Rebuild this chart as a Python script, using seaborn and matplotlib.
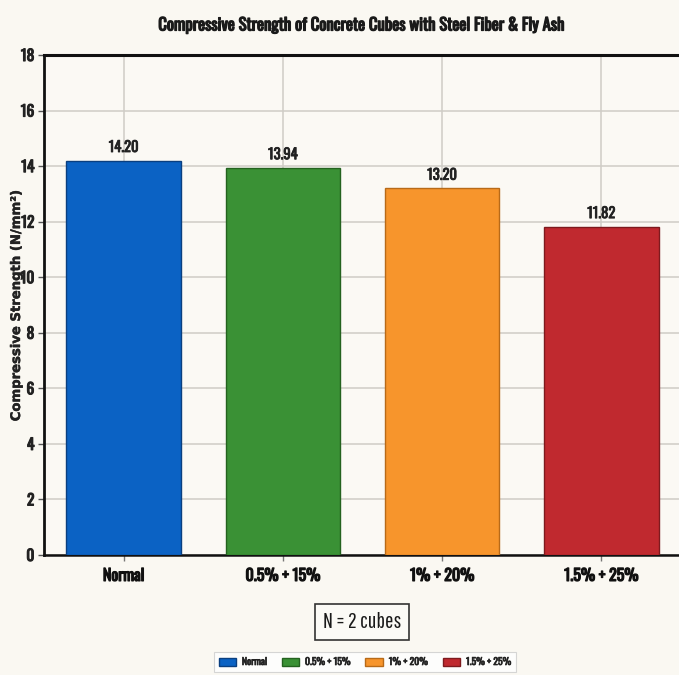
import matplotlib
matplotlib.use("Agg")
import matplotlib.pyplot as plt
import matplotlib.patheffects as pe
import seaborn as sns
import pandas as pd
from matplotlib.patches import Patch

categories = ["Normal", "0.5% + 15%", "1% + 20%", "1.5% + 25%"]
strength = [14.20, 13.94, 13.20, 11.82]
colors = ["#0b62c4", "#3a9135", "#f7952c", "#c0292f"]
edge_colors = ["#0a3f80", "#24621f", "#b86a18", "#7e1a1e"]
y_ticks = [0, 2, 4, 6, 8, 10, 12, 14, 16, 18]

sns.set_theme(style="whitegrid")
cond = ["Oswald", "DejaVu Sans"]
plt.rcParams["font.family"] = cond


def heavy(width=0.7, color="#1a1a1a"):
    # thicken the condensed face a little with an outline in the same colour
    return [pe.withStroke(linewidth=width, foreground=color)]


bg = "#faf8f2"
fig = plt.figure(figsize=(6.79, 6.75), dpi=100, facecolor=bg)
ax = fig.add_axes([44 / 679, 1 - 555 / 675, 637 / 679, 500 / 675])
ax.set_facecolor("#fbf9f4")

df = pd.DataFrame({"Mix": categories, "Strength": strength})
sns.barplot(data=df, x="Mix", y="Strength", hue="Mix", palette=colors,
            saturation=1, width=0.72, dodge=False, legend=False, ax=ax, zorder=3)

for patch, ec in zip(ax.patches, edge_colors):
    patch.set_edgecolor(ec)
    patch.set_linewidth(1.0)

for container in ax.containers:
    for t in ax.bar_label(container, fmt="%.2f", padding=4, fontsize=10.5,
                          color="#222222"):
        t.set_path_effects(heavy(0.6, "#222222"))

ax.set_xlim(-0.5, 3.5)
ax.set_ylim(0, 18)
ax.set_yticks(y_ticks)
ax.grid(True, color="#cfccc6", linewidth=1.1, zorder=0)
ax.set_axisbelow(True)

for side in ["left", "top", "bottom"]:
    ax.spines[side].set_visible(True)
    ax.spines[side].set_color("#111111")
ax.spines["left"].set_linewidth(2.0)
ax.spines["top"].set_linewidth(2.2)
ax.spines["bottom"].set_linewidth(1.8)
ax.spines["right"].set_visible(False)

ax.tick_params(axis="y", which="both", left=True, length=4, width=1,
               color="#555555", labelsize=11, pad=3)
ax.tick_params(axis="x", which="both", bottom=True, length=4, width=1,
               color="#777777", labelsize=11.5, pad=6)
for lbl in ax.get_yticklabels():
    lbl.set_color("#222222")
    lbl.set_path_effects(heavy(0.8, "#222222"))
for lbl in ax.get_xticklabels():
    lbl.set_color("#111111")
    lbl.set_path_effects(heavy(0.9, "#111111"))

ax.set_xlabel("")
ax.set_ylabel("Compressive Strength (N/mm²)", fontsize=9.5, fontweight="bold",
              family=["DejaVu Sans"], color="#222222")
ax.yaxis.label.set_path_effects(heavy(0.3, "#222222"))
ax.yaxis.set_label_coords(-21 / 637, 0.5)

title = fig.text(362 / 679, 1 - 25 / 675,
                 "Compressive Strength of Concrete Cubes with Steel Fiber & Fly Ash",
                 ha="center", va="center", fontsize=12, color="#1a1a1a")
title.set_path_effects(heavy(0.9))

fig.text(362 / 679, 1 - 622 / 675, "N = 2 cubes", ha="center", va="center",
         fontsize=16, color="#1a1a1a", family=["Pathway Gothic One", "DejaVu Sans"],
         bbox=dict(boxstyle="square,pad=0.35", facecolor="#fbfaf6",
                   edgecolor="#333333", linewidth=1.2))

handles = [Patch(facecolor=c, edgecolor=e, label=l)
           for c, e, l in zip(colors, edge_colors, categories)]
leg = fig.legend(handles=handles, loc="center", bbox_to_anchor=(365 / 679, 1 - 662 / 675),
                 ncol=4, fontsize=7, frameon=True, handlelength=1.8, handleheight=0.9,
                 columnspacing=1.5, handletextpad=0.6, borderpad=0.5, fancybox=False)
leg.get_frame().set_edgecolor("#cccccc")
leg.get_frame().set_facecolor("#ffffff")
leg.get_frame().set_linewidth(0.8)
for t in leg.get_texts():
    t.set_color("#222222")
    t.set_path_effects(heavy(0.5, "#222222"))

fig.savefig("out.png", dpi=100, facecolor=bg)
